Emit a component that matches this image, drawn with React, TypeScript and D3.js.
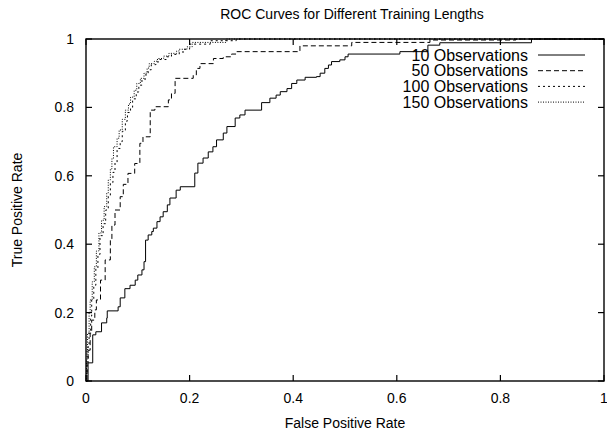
import React from "react";
import * as d3 from "d3";

const xTicks = [0, 0.2, 0.4, 0.6, 0.8, 1];
const yTicks = [0, 0.2, 0.4, 0.6, 0.8, 1];
const xTickLabels = ["0", "0.2", "0.4", "0.6", "0.8", "1"];
const yTickLabels = ["0", "0.2", "0.4", "0.6", "0.8", "1"];

const seriesNames = ["10 Observations", "50 Observations", "100 Observations", "150 Observations"];

const obs10: [number, number][] = [
  [0, 0], [0.004, 0.053], [0.013, 0.135], [0.019, 0.144], [0.03, 0.17], [0.04, 0.184],
  [0.041, 0.205], [0.062, 0.217], [0.066, 0.243], [0.075, 0.27], [0.085, 0.28], [0.095, 0.295],
  [0.1, 0.31], [0.108, 0.325], [0.112, 0.349], [0.115, 0.412], [0.12, 0.427], [0.127, 0.437],
  [0.13, 0.447], [0.137, 0.466], [0.143, 0.48], [0.149, 0.495], [0.157, 0.515], [0.162, 0.535],
  [0.174, 0.558], [0.182, 0.568], [0.21, 0.608], [0.216, 0.637], [0.226, 0.652], [0.236, 0.67],
  [0.245, 0.685], [0.252, 0.705], [0.265, 0.725], [0.272, 0.744], [0.288, 0.769], [0.297, 0.778],
  [0.307, 0.792], [0.339, 0.814], [0.355, 0.827], [0.367, 0.836], [0.375, 0.846], [0.388, 0.855],
  [0.397, 0.87], [0.407, 0.88], [0.423, 0.888], [0.445, 0.89], [0.452, 0.9], [0.461, 0.914],
  [0.468, 0.924], [0.474, 0.934], [0.49, 0.939], [0.5, 0.948], [0.506, 0.956], [0.606, 0.963],
  [0.66, 0.982], [0.683, 0.989], [0.86, 1.0], [1, 1],
];

const obs50: [number, number][] = [
  [0, 0], [0.002, 0.06], [0.004, 0.09], [0.008, 0.14], [0.011, 0.178], [0.017, 0.208],
  [0.02, 0.237], [0.028, 0.295], [0.037, 0.354], [0.047, 0.412], [0.05, 0.456], [0.056, 0.5],
  [0.066, 0.539], [0.072, 0.575], [0.081, 0.607], [0.094, 0.636], [0.104, 0.695], [0.11, 0.714],
  [0.124, 0.792], [0.133, 0.802], [0.159, 0.822], [0.165, 0.841], [0.172, 0.885], [0.207, 0.895],
  [0.213, 0.914], [0.22, 0.928], [0.246, 0.943], [0.265, 0.948], [0.281, 0.956], [0.291, 0.963],
  [0.413, 0.98], [0.513, 0.99], [0.664, 0.997], [0.83, 1.0], [1, 1],
];

const obs100: [number, number][] = [
  [0, 0], [0.002, 0.05], [0.004, 0.1], [0.006, 0.14], [0.009, 0.19], [0.011, 0.237],
  [0.015, 0.28], [0.019, 0.33], [0.023, 0.37], [0.027, 0.425], [0.033, 0.46], [0.038, 0.5],
  [0.043, 0.54], [0.047, 0.58], [0.052, 0.61], [0.056, 0.64], [0.06, 0.68], [0.066, 0.7],
  [0.07, 0.73], [0.076, 0.76], [0.08, 0.785], [0.086, 0.8], [0.09, 0.825], [0.097, 0.845],
  [0.102, 0.865], [0.108, 0.88], [0.114, 0.895], [0.12, 0.91], [0.126, 0.925], [0.135, 0.933],
  [0.142, 0.94], [0.155, 0.948], [0.165, 0.955], [0.18, 0.962], [0.19, 0.97], [0.2, 0.985],
  [0.24, 0.995], [0.29, 1.0], [1, 1],
];

const obs150: [number, number][] = [
  [0, 0], [0.001, 0.06], [0.002, 0.09], [0.003, 0.14], [0.006, 0.2], [0.008, 0.237],
  [0.012, 0.29], [0.016, 0.334], [0.02, 0.38], [0.025, 0.433], [0.03, 0.47], [0.035, 0.51],
  [0.04, 0.55], [0.043, 0.588], [0.047, 0.62], [0.05, 0.65], [0.053, 0.685], [0.06, 0.71],
  [0.064, 0.734], [0.07, 0.765], [0.076, 0.792], [0.082, 0.81], [0.086, 0.83], [0.093, 0.85],
  [0.098, 0.87], [0.105, 0.885], [0.112, 0.9], [0.118, 0.915], [0.122, 0.928], [0.132, 0.935],
  [0.138, 0.943], [0.15, 0.95], [0.16, 0.958], [0.175, 0.965], [0.18, 0.97], [0.195, 0.977],
  [0.205, 0.99], [0.27, 1.0], [1, 1],
];

const seriesData = [obs10, obs50, obs100, obs150];
const dashes = ["none", "5,3", "2,3", "1,1.5"];

const W = 607;
const H = 434;
const left = 86;
const right = 604;
const top = 39;
const bottom = 381;
const font = "'Liberation Sans', Arial, Helvetica, sans-serif";

export default function App() {
  const x = d3.scaleLinear().domain([0, 1]).range([left, right]);
  const y = d3.scaleLinear().domain([0, 1]).range([bottom, top]);
  const line = d3
    .line<[number, number]>()
    .x((d) => x(d[0]))
    .y((d) => y(d[1]))
    .curve(d3.curveStepAfter);
  const tl = 6;

  return (
    <svg
      width={W}
      height={H}
      style={{ position: "absolute", left: 0, top: 0, background: "#fff" }}
      fontFamily={font}
    >
      <rect x={0} y={0} width={W} height={H} fill="#fff" />
      <text x={352} y={19} textAnchor="middle" fontSize={14}>
        ROC Curves for Different Training Lengths
      </text>
      {seriesData.map((s, i) => (
        <path
          key={i}
          d={line(s) || ""}
          fill="none"
          stroke="#000"
          strokeWidth={1}
          strokeDasharray={dashes[i]}
        />
      ))}
      {xTicks.map((t, i) => (
        <g key={"x" + i}>
          <line x1={x(t)} x2={x(t)} y1={bottom} y2={bottom - tl} stroke="#000" strokeWidth={1.2} />
          <line x1={x(t)} x2={x(t)} y1={top} y2={top + tl} stroke="#000" strokeWidth={1.2} />
          <text x={x(t)} y={bottom + 22} textAnchor="middle" fontSize={14}>
            {xTickLabels[i]}
          </text>
        </g>
      ))}
      {yTicks.map((t, i) => (
        <g key={"y" + i}>
          <line x1={left} x2={left + tl} y1={y(t)} y2={y(t)} stroke="#000" strokeWidth={1.2} />
          <line x1={right} x2={right - tl} y1={y(t)} y2={y(t)} stroke="#000" strokeWidth={1.2} />
          <text x={left - 12} y={y(t) + 5} textAnchor="end" fontSize={14}>
            {yTickLabels[i]}
          </text>
        </g>
      ))}
      <rect
        x={left}
        y={top}
        width={right - left}
        height={bottom - top}
        fill="none"
        stroke="#000"
        strokeWidth={1.4}
      />
      {seriesNames.map((n, i) => {
        const ly = 55 + i * 15.7;
        return (
          <g key={"l" + i}>
            <text x={528} y={ly + 5.5} textAnchor="end" fontSize={16}>
              {n}
            </text>
            <line
              x1={538}
              x2={585}
              y1={ly}
              y2={ly}
              stroke="#000"
              strokeWidth={1}
              strokeDasharray={dashes[i]}
            />
          </g>
        );
      })}
      <text x={345} y={428} textAnchor="middle" fontSize={14}>
        False Positive Rate
      </text>
      <text
        transform={`translate(22,${(top + bottom) / 2}) rotate(-90)`}
        textAnchor="middle"
        fontSize={14}
      >
        True Positive Rate
      </text>
    </svg>
  );
}
